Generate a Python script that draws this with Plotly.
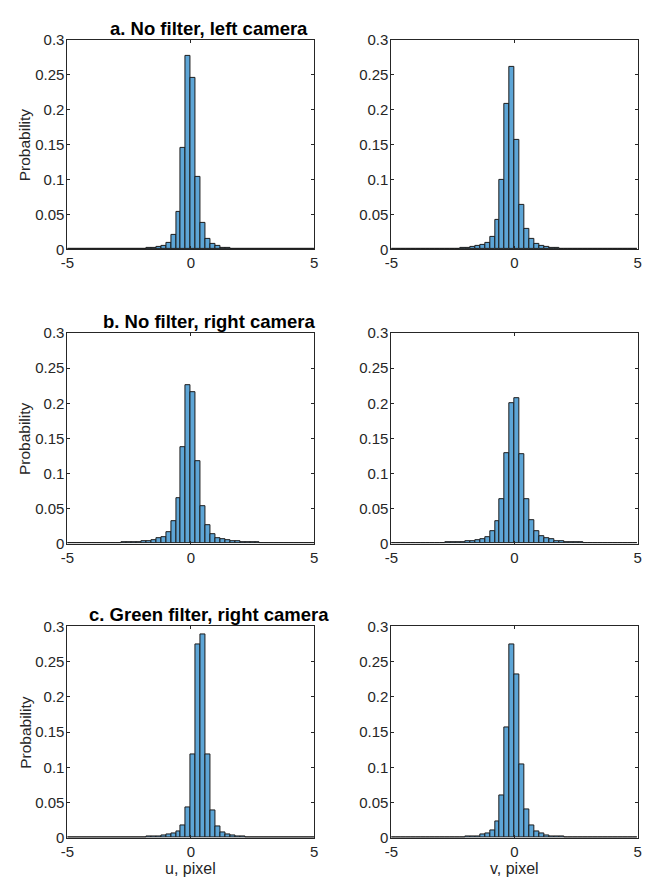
import numpy as np
import plotly.graph_objects as go

# Histogram bins: 50 bins of width 0.2 spanning [-5, 5]
BIN_WIDTH = 0.2
bin_edges = np.round(np.arange(-5.0, 5.0 + 1e-9, BIN_WIDTH), 2)
bin_centers = (bin_edges[:-1] + bin_edges[1:]) / 2

# Probability per bin (left to right, -4.9 ... 4.9)
u_left = [0, 0, 0, 0, 0, 0.0001, 0.0001, 0.0002, 0.0002, 0.0003,
          0.0004, 0.0005, 0.0007, 0.0008, 0.0010, 0.0013, 0.0017, 0.0023, 0.0033, 0.0056,
          0.0094, 0.0200, 0.0530, 0.1450, 0.2770, 0.2450, 0.1040, 0.0380, 0.0150, 0.0075,
          0.0042, 0.0023, 0.0014, 0.0010, 0.0008, 0.0006, 0.0005, 0.0004, 0.0003, 0.0002,
          0.0002, 0.0001, 0.0001, 0.0001, 0.0001, 0, 0, 0, 0, 0]
v_left = [0, 0, 0, 0, 0.0001, 0.0001, 0.0002, 0.0002, 0.0003, 0.0004,
          0.0005, 0.0006, 0.0008, 0.0010, 0.0014, 0.0019, 0.0033, 0.0052, 0.0070, 0.0098,
          0.0183, 0.0422, 0.0999, 0.2077, 0.2616, 0.1570, 0.0642, 0.0295, 0.0150, 0.0080,
          0.0052, 0.0033, 0.0023, 0.0016, 0.0012, 0.0009, 0.0007, 0.0005, 0.0004, 0.0003,
          0.0003, 0.0002, 0.0002, 0.0001, 0.0001, 0.0001, 0.0001, 0, 0, 0]
u_right = [0.0003, 0.0003, 0.0004, 0.0004, 0.0005, 0.0005, 0.0006, 0.0007, 0.0008, 0.0009,
           0.0011, 0.0013, 0.0016, 0.0020, 0.0023, 0.0028, 0.0037, 0.0050, 0.0070, 0.0098,
           0.0164, 0.0322, 0.0654, 0.1379, 0.2258, 0.2164, 0.1168, 0.0537, 0.0257, 0.0140,
           0.0080, 0.0060, 0.0047, 0.0037, 0.0030, 0.0025, 0.0020, 0.0017, 0.0014, 0.0012,
           0.0010, 0.0009, 0.0008, 0.0007, 0.0006, 0.0005, 0.0005, 0.0004, 0.0004, 0.0003]
v_right = [0.0003, 0.0003, 0.0004, 0.0005, 0.0005, 0.0006, 0.0007, 0.0008, 0.0009, 0.0010,
           0.0012, 0.0014, 0.0017, 0.0020, 0.0023, 0.0028, 0.0037, 0.0047, 0.0056, 0.0093,
           0.0178, 0.0318, 0.0640, 0.1286, 0.1996, 0.2076, 0.1280, 0.0631, 0.0327, 0.0173,
           0.0112, 0.0080, 0.0056, 0.0040, 0.0032, 0.0026, 0.0021, 0.0018, 0.0015, 0.0012,
           0.0010, 0.0009, 0.0008, 0.0007, 0.0006, 0.0005, 0.0005, 0.0004, 0.0003, 0.0003]
u_green = [0, 0, 0, 0.0001, 0.0001, 0.0001, 0.0002, 0.0002, 0.0003, 0.0003,
           0.0004, 0.0005, 0.0006, 0.0008, 0.0010, 0.0012, 0.0015, 0.0019, 0.0023, 0.0032,
           0.0046, 0.0060, 0.0088, 0.0176, 0.0427, 0.1190, 0.2750, 0.2889, 0.1178, 0.0385,
           0.0162, 0.0079, 0.0042, 0.0028, 0.0020, 0.0015, 0.0011, 0.0009, 0.0007, 0.0005,
           0.0004, 0.0003, 0.0003, 0.0002, 0.0002, 0.0001, 0.0001, 0.0001, 0, 0]
v_green = [0, 0, 0, 0.0001, 0.0001, 0.0001, 0.0002, 0.0002, 0.0003, 0.0004,
           0.0005, 0.0006, 0.0008, 0.0010, 0.0012, 0.0015, 0.0019, 0.0023, 0.0042, 0.0065,
           0.0107, 0.0232, 0.0607, 0.1562, 0.2740, 0.2318, 0.1043, 0.0399, 0.0176, 0.0088,
           0.0056, 0.0037, 0.0023, 0.0017, 0.0013, 0.0010, 0.0008, 0.0006, 0.0005, 0.0004,
           0.0003, 0.0003, 0.0002, 0.0002, 0.0001, 0.0001, 0.0001, 0, 0, 0]

panel_values = [u_left, v_left, u_right, v_right, u_green, v_green]
row_titles = ["a. No filter, left camera",
              "b. No filter, right camera",
              "c. Green filter, right camera"]
x_labels = ["u, pixel", "v, pixel"]
y_label = "Probability"

y_tickvals = [0, 0.05, 0.1, 0.15, 0.2, 0.25, 0.3]
y_ticktext = ["0", "0.05", "0.1", "0.15", "0.2", "0.25", "0.3"]
x_tickvals = [-5, 0, 5]
x_ticktext = ["-5", "0", "5"]

W, H = 645, 888
FONT = "Arial, Liberation Sans, Helvetica, sans-serif"
INK = "#262626"
BAR_FILL = "#5DA5D6"
BAR_EDGE = "#1c1c1c"

# Panel frames in pixels: (left, right) per column, (top, bottom) per row
col_px = [(61.5, 312.5), (391.0, 641.7)]
row_px = [(31.5, 245.0), (330.5, 545.0), (629.5, 845.0)]

fig = go.Figure()
layout_axes = {}
annotations = []

for i, vals in enumerate(panel_values):
    r, c = divmod(i, 2)
    n = i + 1
    xa = "x" if n == 1 else f"x{n}"
    ya = "y" if n == 1 else f"y{n}"
    fig.add_trace(go.Bar(
        x=bin_centers, y=vals, width=BIN_WIDTH,
        marker=dict(color=BAR_FILL, line=dict(color=BAR_EDGE, width=1)),
        xaxis=xa, yaxis=ya, showlegend=False, hoverinfo="x+y",
    ))
    x0, x1 = col_px[c]
    t, b = row_px[r]
    axis_common = dict(
        showline=True, linecolor=INK, linewidth=1, mirror="ticks",
        ticks="inside", ticklen=3, tickwidth=1, tickcolor=INK,
        showgrid=False, zeroline=False,
        tickfont=dict(family=FONT, size=15, color=INK),
    )
    layout_axes["xaxis" if n == 1 else f"xaxis{n}"] = dict(
        domain=[x0 / W, x1 / W], range=[-5, 5], anchor=ya,
        tickvals=x_tickvals, ticktext=x_ticktext, ticklabelstandoff=0,
        **axis_common)
    layout_axes["yaxis" if n == 1 else f"yaxis{n}"] = dict(
        domain=[1 - b / H, 1 - t / H], range=[0, 0.3], anchor=xa,
        tickvals=y_tickvals, ticktext=y_ticktext, ticklabelstandoff=-1,
        **axis_common)

    if c == 0:
        annotations.append(dict(
            text=y_label, xref="paper", yref="paper",
            x=18 / W, y=1 - ((t + b) / 2) / H, textangle=-90,
            showarrow=False, xanchor="center", yanchor="middle",
            font=dict(family=FONT, size=15.5, color=INK)))
        annotations.append(dict(
            text=f"<b>{row_titles[r]}</b>", xref="paper", yref="paper",
            x=206 / W, y=1 - (t - 12) / H,
            showarrow=False, xanchor="center", yanchor="middle",
            font=dict(family=FONT, size=18.5, color="#000000")))
    if r == 2:
        annotations.append(dict(
            text=x_labels[c], xref="paper", yref="paper",
            x=((x0 + x1) / 2) / W, y=1 - 876 / H,
            showarrow=False, xanchor="center", yanchor="middle",
            font=dict(family=FONT, size=16, color=INK)))

fig.update_layout(
    width=W, height=H,
    margin=dict(l=0, r=0, t=0, b=0),
    paper_bgcolor="white", plot_bgcolor="white",
    bargap=0, barmode="overlay",
    annotations=annotations,
    **layout_axes,
)

fig.write_html("out.html")
